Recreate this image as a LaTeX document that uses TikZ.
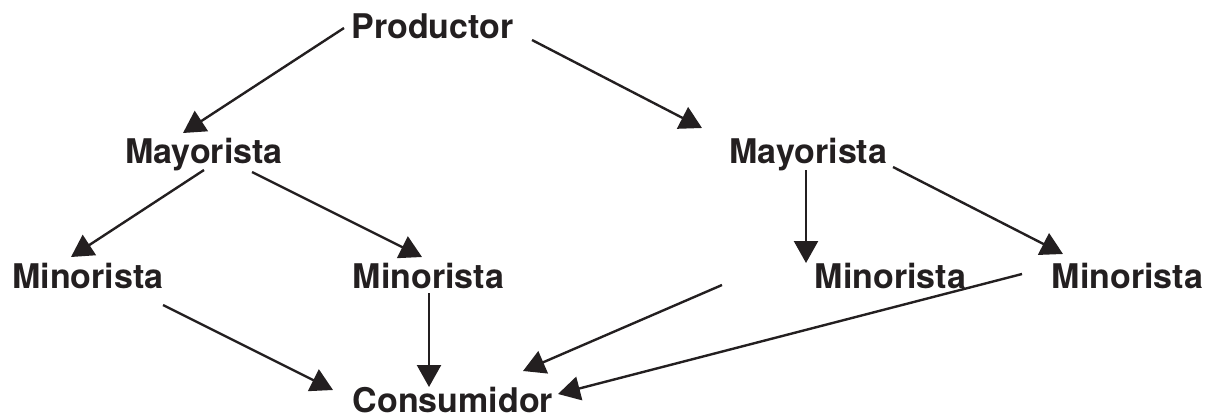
\documentclass[tikz,border=0pt]{standalone}
\usepackage{fontspec}
\setmainfont{TeX Gyre Heros}
\usetikzlibrary{arrows.meta}
\definecolor{ink}{RGB}{35,31,32}
\begin{document}
\begin{tikzpicture}[x=0.5pt,y=-0.5pt,
  lbl/.style={anchor=base,inner sep=0pt,text=ink,font=\fontsize{17}{20}\selectfont\bfseries},
  arr/.style={draw=ink,line width=1.2pt,-{Triangle[length=11pt,width=12pt]}}]
\useasboundingbox (0,0) rectangle (1213,417);
% labels (placed by their baselines)
\node[lbl] (prod) at (432.5,39)  {Productor};
\node[lbl] (mayL) at (204,163)   {Mayorista};
\node[lbl] (mayR) at (808.5,163) {Mayorista};
\node[lbl] (minA) at (88,288)    {Minorista};
\node[lbl] (minB) at (428.5,288) {Minorista};
\node[lbl] (minC) at (890.5,288) {Minorista};
\node[lbl] (minD) at (1127.5,288){Minorista};
\node[lbl] (cons) at (453,412)   {Consumidor};
\coordinate (loose) at (722,285);
% channels
\draw[arr] ([shift={(-88.5,-11)}]prod.base) -- ([shift={(-21,-30)}]mayL.base);
\draw[arr] ([shift={(99.5,1)}]prod.base)    -- ([shift={(-106.5,-35)}]mayR.base);
\draw[arr] ([shift={(0,7)}]mayL.base)       -- ([shift={(-17,-31)}]minA.base);
\draw[arr] ([shift={(48,9)}]mayL.base)      -- ([shift={(-6.5,-31)}]minB.base);
\draw[arr] ([shift={(-2.5,7)}]mayR.base)    -- ([shift={(-84.5,-25)}]minC.base);
\draw[arr] ([shift={(84.5,4)}]mayR.base)    -- ([shift={(-64.5,-34)}]minD.base);
\draw[arr] ([shift={(75,17)}]minA.base)     -- ([shift={(-120,-22)}]cons.base);
\draw[arr] ([shift={(0.5,5)}]minB.base)     -- ([shift={(-24,-25)}]cons.base);
\draw[arr] (loose)                          -- ([shift={(70,-41)}]cons.base);
\draw[arr] ([shift={(-105.5,-14)}]minD.base)-- ([shift={(105,-18)}]cons.base);
\end{tikzpicture}
\end{document}
